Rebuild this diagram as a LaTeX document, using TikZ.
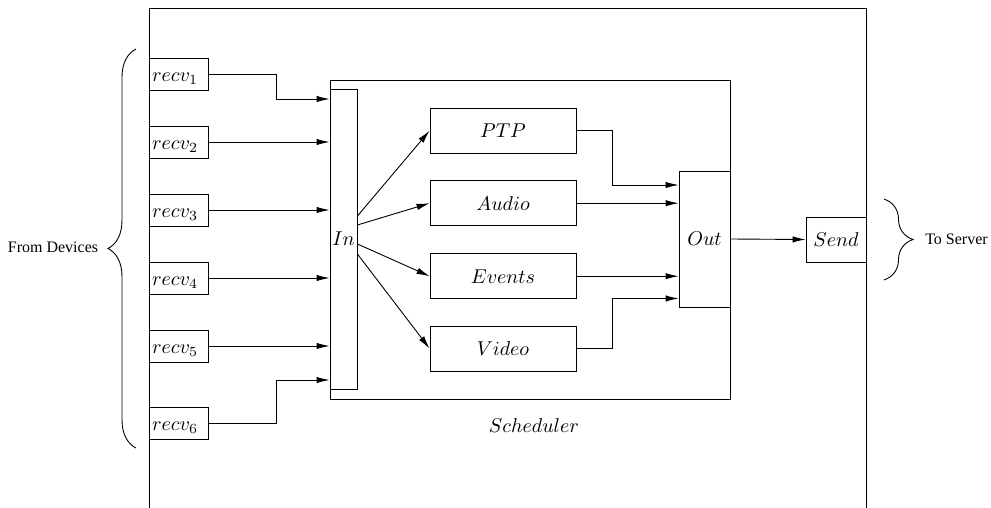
\documentclass[tikz,border=0pt]{standalone}
\usepackage{fontspec}
\newfontfamily\timesfont{Liberation Serif}
\usetikzlibrary{arrows.meta,decorations.pathreplacing}
\begin{document}
\begin{tikzpicture}[x=0.5pt,y=-0.5pt,
  line width=0.45pt,
  arr/.style={-{Latex[length=6.5pt,width=3.2pt]}},
  recvbox/.style={draw,minimum width=29.5pt,minimum height=16pt,text width=26.5pt,inner xsep=1.5pt,inner ysep=0pt,align=left,text height=8pt,text depth=0.7pt},
  qbox/.style={draw,minimum width=73pt,minimum height=22.5pt,inner sep=0pt},
  bigbox/.style={draw,inner sep=0pt},
  bracedeco/.style={decorate,decoration={brace,amplitude=#1}}
]
\useasboundingbox (0,0) rectangle (991,508);
% outer frame
\draw (149,508) -- (149,8) -- (866,8) -- (866,508);
% scheduler frame
\node[bigbox,minimum width=200pt,minimum height=159.5pt] (sched) at (530,239.5) {};
\node (schedlabel) at (534,426) {$Scheduler$};
% In and Out
\node[bigbox,minimum width=13.5pt,minimum height=150pt] (in) at (343.5,239) {$In$};
\node[bigbox,minimum width=25.5pt,minimum height=68pt] (out) at (704.5,239) {$Out$};
% queues
\node[qbox] (ptp) at (503,130.7) {$PTP$};
\node[qbox] (audio) at (503,203.2) {$Audio$};
\node[qbox] (events) at (503,276.2) {$Events$};
\node[qbox] (video) at (503,348.5) {$Video$};
% send
\node[bigbox,minimum width=30pt,minimum height=22.5pt] (send) at (836,239.5) {$Send$};
% receivers
\node[recvbox] (r1) at (178.5,74) {$recv_1$};
\node[recvbox] (r2) at (178.5,142) {$recv_2$};
\node[recvbox] (r3) at (178.5,210) {$recv_3$};
\node[recvbox] (r4) at (178.5,278) {$recv_4$};
\node[recvbox] (r5) at (178.5,346) {$recv_5$};
\node[recvbox] (r6) at (178.5,423) {$recv_6$};
% receivers to In
\coordinate (j1) at (276,99);
\coordinate (j6) at (276,380);
\draw[arr] (r1.east) -| (j1) -- (j1 -| in.west);
\draw[arr] (r2.east) -- (r2.east -| in.west);
\draw[arr] (r3.east) -- (r3.east -| in.west);
\draw[arr] (r4.east) -- (r4.east -| in.west);
\draw[arr] (r5.east) -- (r5.east -| in.west);
\draw[arr] (r6.east) -| (j6) -- (j6 -| in.west);
% In to queues
\draw[arr] ([yshift=11.5pt]in.east) -- (ptp.west);
\draw[arr] ([yshift=7pt]in.east) -- (audio.west);
\draw[arr] ([yshift=-2.5pt]in.east) -- (events.west);
\draw[arr] ([yshift=-7.5pt]in.east) -- (video.west);
% queues to Out
\coordinate (k1) at (612,185);
\coordinate (k4) at (612,298.5);
\draw[arr] (ptp.east) -| (k1) -- (k1 -| out.west);
\draw[arr] (audio.east) -- (audio.east -| out.west);
\draw[arr] (events.east) -- (events.east -| out.west);
\draw[arr] (video.east) -| (k4) -- (k4 -| out.west);
% Out to Send
\draw[arr] (out.east) -- (send.west);
% braces and labels
\coordinate (lb1) at (136,448);
\coordinate (lb2) at (136,49);
\draw[bracedeco=14pt] (lb1) -- (lb2);
\node (from) at (53,247) {\timesfont\fontsize{8pt}{9.5pt}\selectfont From Devices};
\coordinate (rb1) at (884,199);
\coordinate (rb2) at (884,280);
\draw[bracedeco=14.5pt] (rb1) -- (rb2);
\node (to) at (956.5,239) {\timesfont\fontsize{8pt}{9.5pt}\selectfont To Server};
\end{tikzpicture}
\end{document}
